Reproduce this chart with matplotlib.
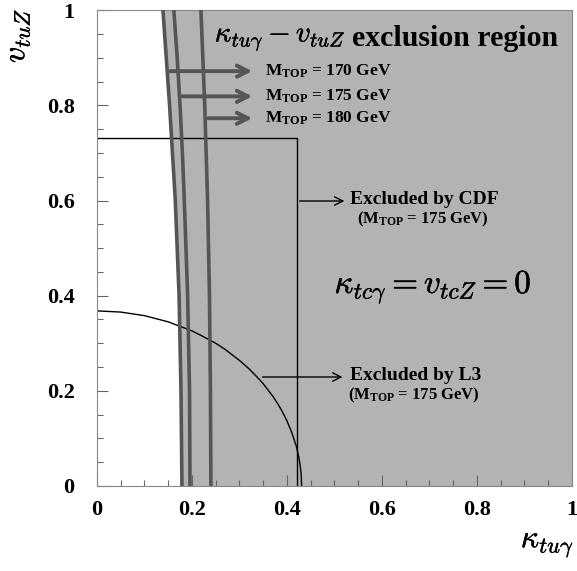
import matplotlib
matplotlib.use("Agg")
import numpy as np
import matplotlib.pyplot as plt
import matplotlib.patheffects as pe
from matplotlib.ticker import MultipleLocator

plt.rcParams['font.family'] = 'Liberation Serif'
plt.rcParams['font.weight'] = 'bold'
plt.rcParams['mathtext.fontset'] = 'custom'
plt.rcParams['mathtext.rm'] = 'Liberation Serif:bold'
plt.rcParams['mathtext.bf'] = 'Liberation Serif:bold'
plt.rcParams['mathtext.it'] = 'Liberation Serif:italic:bold'

# exclusion contours for three top masses (kappa_tu_gamma vs v_tuZ)
y_curve = [0.0, 0.2, 0.4, 0.6, 0.7, 0.8, 0.9, 1.0]
x_170 = [0.179, 0.177, 0.173, 0.165, 0.159, 0.153, 0.146, 0.139]
x_175 = [0.196, 0.195, 0.191, 0.184, 0.180, 0.175, 0.169, 0.162]
x_180 = [0.240, 0.239, 0.237, 0.233, 0.230, 0.227, 0.223, 0.219]

# CDF box limits
cdf_x = 0.421
cdf_y = 0.731

# L3 limit
l3_x = [0.0, 0.05, 0.10, 0.15, 0.20, 0.22, 0.25, 0.27, 0.30, 0.32, 0.34, 0.35,
        0.36, 0.37, 0.38, 0.39, 0.40, 0.41, 0.42, 0.425, 0.428, 0.430, 0.431]
l3_y = [0.368, 0.3655, 0.358, 0.345, 0.326, 0.316, 0.300, 0.287, 0.264, 0.2465,
        0.226, 0.215, 0.202, 0.189, 0.174, 0.157, 0.137, 0.113, 0.083, 0.061,
        0.043, 0.025, 0.0]

mass_labels = ['170', '175', '180']
arrow_y = [0.872, 0.819, 0.773]

fig = plt.figure(figsize=(5.77, 5.71), dpi=100)
ax = fig.add_axes([0.168, 0.149, 0.823, 0.833])

gray = '#b3b3b3'
dark = '#555555'
thick = [pe.withStroke(linewidth=0.3, foreground='black')]

ax.fill_betweenx(y_curve, x_170, 1.0, color=gray, lw=0, zorder=1)
for xs in (x_170, x_175, x_180):
    ax.plot(xs, y_curve, color=dark, lw=2.6, zorder=3)

# CDF box
ax.plot([0, cdf_x, cdf_x], [cdf_y, cdf_y, 0], color='black', lw=1.0, zorder=2)
# L3 ellipse
ax.plot(l3_x, l3_y, color='black', lw=1.0, zorder=2)

# arrows from the curves to the mass labels
curves = [x_170, x_175, x_180]
for xs, ya, m in zip(curves, arrow_y, mass_labels):
    x0 = np.interp(ya, y_curve, xs)
    ax.annotate('', xy=(0.333, ya), xytext=(x0, ya),
                arrowprops=dict(arrowstyle='->,head_length=0.8,head_width=0.4',
                                color=dark, lw=2.8), zorder=4)
    ax.text(0.353, ya, r'M$_{\mathbf{TOP}}$ = ' + m + ' GeV', fontsize=12.5,
            va='center', ha='left', zorder=5)

ax.text(0.248, 0.938, r'$\kappa_{tu\gamma}-v_{tuZ}$', math_fontfamily='cm',
        fontsize=21, va='center', ha='left', path_effects=thick)
ax.text(0.537, 0.94, 'exclusion region', fontsize=21.5, va='center', ha='left')

# CDF annotation
ax.annotate('', xy=(0.527, 0.599), xytext=(cdf_x, 0.599),
            arrowprops=dict(arrowstyle='->,head_length=0.6,head_width=0.3',
                            color='black', lw=1.0))
ax.text(0.533, 0.603, 'Excluded by CDF', fontsize=14, va='center', ha='left')
ax.text(0.686, 0.561, r'(M$_{\mathbf{TOP}}$ = 175 GeV)', fontsize=12,
        va='center', ha='center')

ax.text(0.500, 0.418, r'$\kappa_{tc\gamma}=v_{tcZ}=0$', math_fontfamily='cm',
        fontsize=24, va='center', ha='left', path_effects=thick)

# L3 annotation
ax.annotate('', xy=(0.523, 0.229), xytext=(0.343, 0.229),
            arrowprops=dict(arrowstyle='->,head_length=0.6,head_width=0.3',
                            color='black', lw=1.0))
ax.text(0.533, 0.233, 'Excluded by L3', fontsize=14, va='center', ha='left')
ax.text(0.668, 0.191, r'(M$_{\mathbf{TOP}}$ = 175 GeV)', fontsize=12,
        va='center', ha='center')

ax.set_xlim(0, 1)
ax.set_ylim(0, 1)
ax.xaxis.set_minor_locator(MultipleLocator(0.05))
ax.yaxis.set_minor_locator(MultipleLocator(0.05))
ax.set_xticks([0, 0.2, 0.4, 0.6, 0.8, 1.0])
ax.set_xticklabels(['0', '0.2', '0.4', '0.6', '0.8', '1'])
ax.set_yticks([0, 0.2, 0.4, 0.6, 0.8, 1.0])
ax.set_yticklabels(['0', '0.2', '0.4', '0.6', '0.8', '1'])
ax.tick_params(which='both', direction='in', color='#666666', labelsize=16)
ax.tick_params(which='major', length=8, width=0.8, pad=10)
ax.tick_params(which='minor', length=4, width=0.8)
ax.tick_params(axis='y', pad=16)
for s in ax.spines.values():
    s.set_color('#888888')
    s.set_linewidth(0.8)

fig.text(0.03, 0.985, r'$v_{tuZ}$', math_fontfamily='cm', fontsize=23,
         rotation=90, va='top', ha='center', path_effects=thick)
fig.text(0.995, 0.045, r'$\kappa_{tu\gamma}$', math_fontfamily='cm', fontsize=23,
         va='center', ha='right', path_effects=thick)

fig.savefig('out.png', dpi=100)
